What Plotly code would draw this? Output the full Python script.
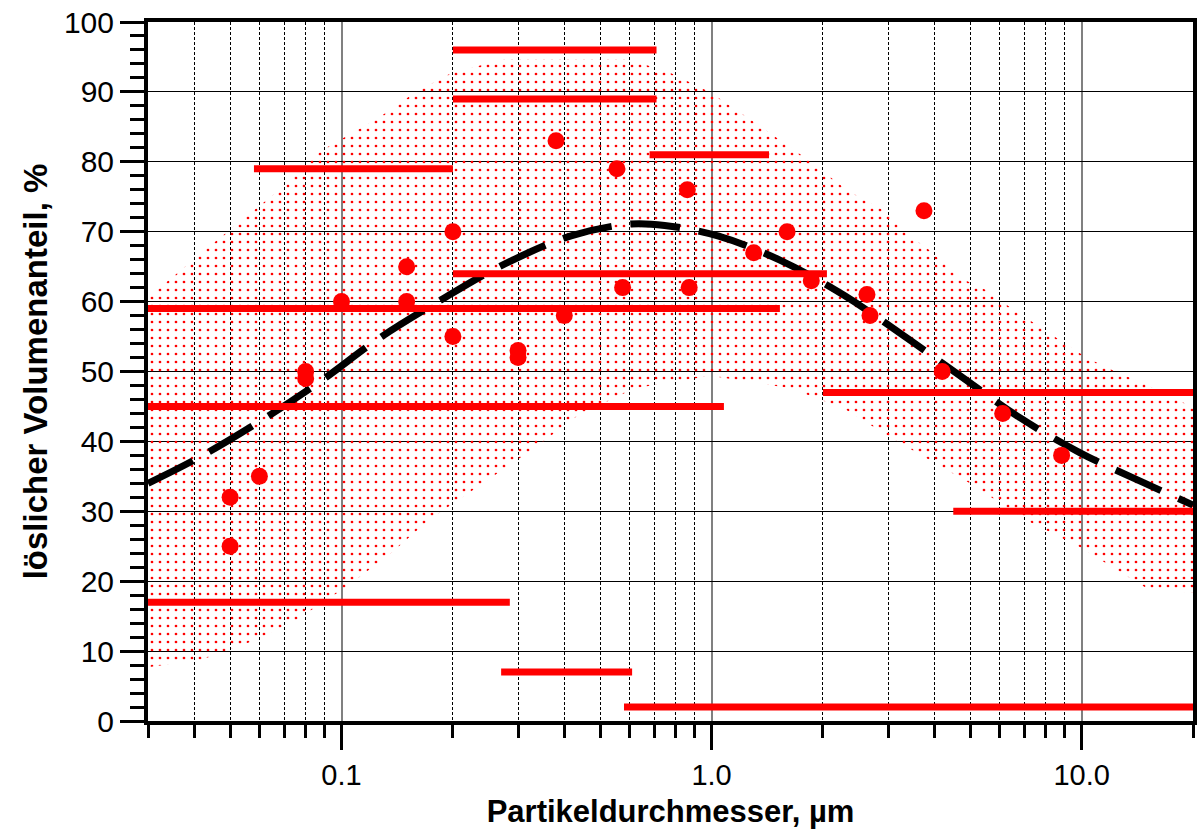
import plotly.graph_objects as go

# ---- data ----
# measured points (particle diameter in µm, soluble volume fraction in %)
pt_x = [0.05, 0.05, 0.06, 0.08, 0.08, 0.10, 0.15, 0.15, 0.20, 0.20, 0.30, 0.30,
        0.38, 0.40, 0.555, 0.575, 0.86, 0.87, 1.30, 1.60, 1.86, 2.63, 2.68,
        3.75, 4.20, 6.12, 8.83]
pt_y = [32, 25, 35, 50, 49, 60, 65, 60, 70, 55, 53, 52,
        83, 58, 79, 62, 76, 62, 67, 70, 63, 61, 58,
        73, 50, 44, 38]

# size-class ranges (horizontal bars)
seg_y = [96, 89, 81, 79, 64, 59, 47, 45, 30, 17, 7, 2]
seg_x0 = [0.2, 0.2, 0.68, 0.058, 0.2, 0.029, 2.0, 0.029, 4.5, 0.029, 0.27, 0.58]
seg_x1 = [0.71, 0.71, 1.43, 0.2, 2.05, 1.53, 20, 1.08, 20, 0.285, 0.61, 20]

# fitted curve (dashed)
fit_x = [0.03, 0.0412, 0.0624, 0.0883, 0.126, 0.1826, 0.265, 0.417, 0.605, 0.747,
         1.04, 1.535, 2.28, 3.31, 4.69, 6.81, 9.88, 14.7, 20]
fit_y = [34, 37.7, 43.4, 48.7, 54.7, 60, 64.9, 69.4, 71.1, 70.9,
         69.4, 65.9, 60.9, 55.1, 49.4, 43.4, 38.4, 34.1, 30.9]

# scatter band (dotted area)
band_up_x = [0.03, 0.0466, 0.0676, 0.0883, 0.126, 0.158, 0.198, 0.277, 0.594, 0.775,
             0.994, 1.27, 1.81, 2.33, 2.93, 3.31, 3.89, 4.69, 5.55, 6.28, 10.3,
             12.2, 14.7, 20]
band_up_y = [60.6, 69, 75.9, 81.6, 86.3, 89.9, 92.7, 94.7, 94.7, 92.7,
             89.9, 86.1, 80.4, 75.9, 73, 70, 67.3, 63.4, 61.6, 59.5, 52,
             50.1, 48.3, 44.9]
band_lo_x = [0.03, 0.042, 0.0586, 0.0752, 0.1025, 0.136, 0.1716, 0.22, 0.333, 0.435,
             0.62, 0.994, 1.63, 2.28, 3.04, 4.99, 7.11, 9.88, 15.0, 20]
band_lo_y = [7.7, 8.8, 11.6, 14.4, 19.1, 24, 28.7, 32.6, 39.1, 43.7,
             47.6, 49.4, 47.6, 44.7, 40.6, 34, 28.7, 24.9, 19, 18.3]

x_tickvals = [0.1, 1, 10]
x_ticktext = ["0.1", "1.0", "10.0"]
x_minor = [0.03, 0.04, 0.05, 0.06, 0.07, 0.08, 0.09,
           0.2, 0.3, 0.4, 0.5, 0.6, 0.7, 0.8, 0.9,
           2, 3, 4, 5, 6, 7, 8, 9, 20]
y_tickvals = [0, 10, 20, 30, 40, 50, 60, 70, 80, 90, 100]
y_ticktext = [str(v) for v in y_tickvals]

RED = "#ff0000"
FONT = "Liberation Sans, Arial, sans-serif"

fig = go.Figure()

# dotted band as a closed polygon
poly_x = band_up_x + band_lo_x[::-1]
poly_y = band_up_y + band_lo_y[::-1]
fig.add_trace(go.Scatter(
    x=poly_x, y=poly_y, mode="lines", fill="toself",
    line=dict(width=0, color="rgba(0,0,0,0)"),
    fillcolor="rgba(0,0,0,0)",
    fillpattern=dict(shape=".", fgcolor=RED, bgcolor="rgba(0,0,0,0)",
                     size=8, solidity=0.09, fgopacity=1),
    hoverinfo="skip", showlegend=False,
))

# dashed fit curve
fig.add_trace(go.Scatter(
    x=fit_x, y=fit_y, mode="lines", line_shape="spline",
    line=dict(color="black", width=7, dash="50px,19px"),
    showlegend=False,
))

# horizontal bars
bx, by = [], []
for x0, x1, y in zip(seg_x0, seg_x1, seg_y):
    bx += [x0, x1, None]
    by += [y, y, None]
fig.add_trace(go.Scatter(
    x=bx, y=by, mode="lines", line=dict(color=RED, width=7),
    showlegend=False, cliponaxis=False,
))

# data points
fig.add_trace(go.Scatter(
    x=pt_x, y=pt_y, mode="markers",
    marker=dict(color=RED, size=17, line=dict(width=0)),
    showlegend=False,
))

fig.update_layout(
    width=1200, height=837,
    margin=dict(l=148, r=3, t=22, b=116),
    paper_bgcolor="white", plot_bgcolor="white",
    font=dict(family=FONT, color="black", size=29),
    showlegend=False,
)

fig.update_xaxes(
    type="log", range=[-1.5229, 1.30103],
    tickmode="array", tickvals=x_tickvals, ticktext=x_ticktext,
    ticks="outside", ticklen=25, tickwidth=3, tickcolor="black",
    showgrid=True, gridcolor="#808080", gridwidth=2,
    showline=True, linecolor="black", linewidth=4, mirror=True,
    tickfont=dict(family=FONT, size=29, color="black"),
    minor=dict(tickmode="array", tickvals=x_minor, ticks="outside",
               ticklen=13, tickwidth=3, tickcolor="black",
               showgrid=True, gridcolor="black", gridwidth=1, griddash="3px,2px"),
    title=dict(text="Partikeldurchmesser, µm",
               font=dict(family=FONT, size=31, color="black", weight="bold"),
               standoff=12),
    zeroline=False,
)

fig.update_yaxes(
    range=[0, 100], tickmode="array", tickvals=y_tickvals, ticktext=y_ticktext,
    ticks="outside", ticklen=24, tickwidth=3, tickcolor="black",
    showgrid=True, gridcolor="black", gridwidth=1,
    showline=True, linecolor="black", linewidth=4, mirror=True,
    tickfont=dict(family=FONT, size=30, color="black"),
    minor=dict(dtick=2, tick0=0, ticks="outside", ticklen=14, tickwidth=3,
               tickcolor="black", showgrid=False),
    title=dict(text="löslicher Volumenanteil, %",
               font=dict(family=FONT, size=33, color="black", weight="bold"),
               standoff=7),
    zeroline=False,
)

fig.write_html("out.html")
